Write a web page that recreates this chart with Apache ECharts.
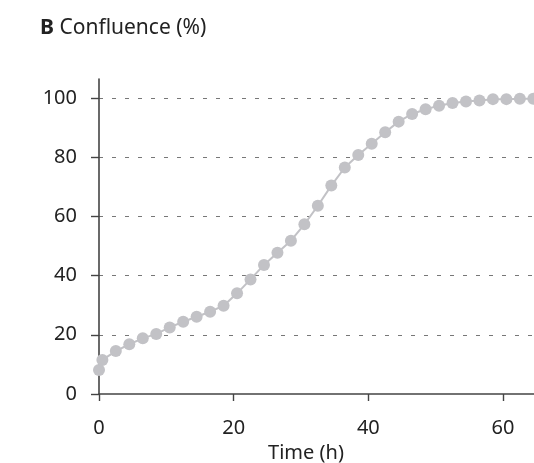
<!DOCTYPE html>
<html>
<head>
<meta charset="utf-8">
<script src="https://cdn.jsdelivr.net/npm/echarts@6/dist/echarts.min.js"></script>
<style>html,body{margin:0;padding:0;background:#fff;}#c{width:534px;height:463px;}</style>
</head>
<body>
<div id="c"></div>
<script>
var timeHours = [0, 0.5, 2.5, 4.5, 6.5, 8.5, 10.5, 12.5, 14.5, 16.5, 18.5, 20.5, 22.5, 24.5, 26.5, 28.5, 30.5, 32.5, 34.5, 36.5, 38.5, 40.5, 42.5, 44.5, 46.5, 48.5, 50.5, 52.5, 54.5, 56.5, 58.5, 60.5, 62.5, 64.5];
var confluence = [8.1, 11.5, 14.5, 16.8, 18.8, 20.3, 22.5, 24.4, 26.1, 27.8, 29.8, 34.0, 38.7, 43.6, 47.7, 51.8, 57.3, 63.6, 70.4, 76.5, 80.7, 84.5, 88.4, 92.0, 94.6, 96.2, 97.4, 98.3, 98.8, 99.1, 99.6, 99.6, 99.7, 99.7];
var xTicks = [0, 20, 40, 60];
var yTicks = [0, 20, 40, 60, 80, 100];
var titleText = 'Confluence (%)';
var panelLetter = 'B';
var xName = 'Time (h)';

var pts = timeHours.map(function (t, i) { return [t, confluence[i]]; });
var FONT = '"Noto Sans", sans-serif';
var chart = echarts.init(document.getElementById('c'), null, {renderer: 'canvas'});
chart.setOption({
  animation: false,
  backgroundColor: '#fff',
  title: {
    text: '{b|' + panelLetter + '} ' + titleText,
    left: 35, top: 13,
    textStyle: {
      fontFamily: FONT, fontSize: 21, fontWeight: 'normal', color: '#222',
      rich: { b: { fontFamily: FONT, fontSize: 21, fontWeight: 'bold', color: '#222' } }
    }
  },
  grid: { left: 99, right: 0, top: 79, bottom: 69, containLabel: false, outerBoundsMode: 'none' },
  xAxis: {
    type: 'value', min: 0, max: 64.6,
    name: xName, nameLocation: 'middle', nameGap: 46,
    nameTextStyle: { fontFamily: FONT, fontSize: 20, color: '#222', padding: [0, 21, 0, 0] },
    axisLine: { show: true, lineStyle: { color: '#444', width: 1.6 } },
    axisTick: { show: true, inside: false, length: 7, customValues: xTicks, lineStyle: { color: '#444', width: 1.4 } },
    axisLabel: { customValues: xTicks, margin: 24, fontFamily: FONT, fontSize: 20, color: '#222' },
    splitLine: { show: false }
  },
  yAxis: {
    type: 'value', min: 0, max: 106.4,
    axisLine: { show: true, lineStyle: { color: '#444', width: 1.6 } },
    axisTick: { show: true, inside: false, length: 8, customValues: yTicks, lineStyle: { color: '#444', width: 1.4 } },
    axisLabel: { customValues: yTicks, margin: 22, fontFamily: FONT, fontSize: 20, color: '#222' },
    splitLine: { show: true, showMinLine: false, lineStyle: { color: '#777', width: 1, type: [4, 9] } }
  },
  series: [{
    type: 'line',
    data: pts,
    symbol: 'circle',
    symbolSize: 12,
    clip: false,
    itemStyle: { color: '#c2c2c6' },
    lineStyle: { color: '#c2c2c6', width: 2 }
  }]
});
</script>
</body>
</html>
